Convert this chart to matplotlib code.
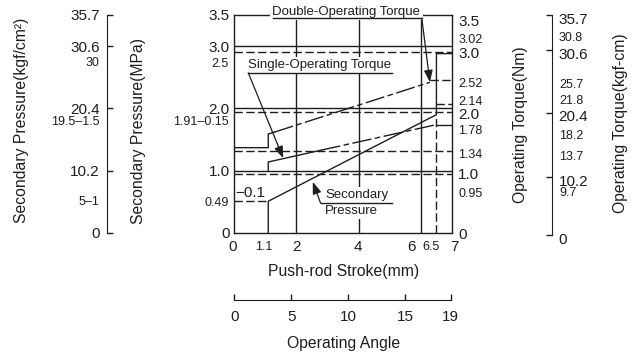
import matplotlib
matplotlib.use("Agg")
import matplotlib.pyplot as plt
from matplotlib.transforms import blended_transform_factory, ScaledTranslation

plt.rcParams["font.family"] = ["Liberation Sans", "DejaVu Sans"]

# -----------------------------
# values (y in MPa / Nm, x in push-rod stroke mm)
# -----------------------------
grid_x = [2, 4, 6]
grid_y = [1.0, 2.0, 3.0]
ref_dashed_y = [2.90, 1.94, 1.32, 0.95]

# short dashed helper lines: (x0, x1, y0, y1)
helper_dashed = [(0.0, 1.1, 0.51, 0.51),
                 (6.29, 7.0, 2.45, 2.45),
                 (6.5, 7.0, 2.07, 2.07),
                 (6.5, 6.5, 0.0, 1.90)]

sec_x = [1.1, 1.1, 6.5, 6.5, 7.0]
sec_y = [0.0, 0.51, 1.90, 2.88, 2.88]

single_x = [1.1, 1.1, 2.8, 6.5, 7.0]
single_y = [1.00, 1.14, 1.33, 1.74, 1.74]

double_x = [0.0, 1.1, 1.1, 1.3, 6.29]
double_y = [1.37, 1.37, 1.59, 1.62, 2.42]

# tick labels
mpa_ticks = [0, 1.0, 2.0, 3.0, 3.5]
mpa_labels = ["0", "1.0", "2.0", "3.0", "3.5"]
mpa_small = ["2.5", "1.91\u20130.15", "0.49"]
mpa_small_y = [2.72, 1.79, 0.48]

kgf_ticks = [0, 10.2, 20.4, 30.6, 35.7]
kgf_labels = ["0", "10.2", "20.4", "30.6", "35.7"]
kgf_small = ["30", "19.5\u20131.5", "5\u20131"]
kgf_small_y = [27.8, 18.2, 5.1]

nm_labels = ["3.5", "3.0", "2.0", "1.0", "0"]
nm_labels_y = [3.38, 2.88, 1.89, 0.93, -0.03]
nm_small = ["3.02", "2.52", "2.14", "1.78", "1.34", "0.95"]
nm_small_y = [3.10, 2.40, 2.11, 1.63, 1.25, 0.63]

# kgf-cm scale: tick marks sit where the scan puts them
kgfcm_ticks = [0, 9.4, 19.8, 30.0, 35.7]
kgfcm_labels = ["0", "10.2", "20.4", "30.6", "35.7"]
kgfcm_small = ["30.8", "25.7", "21.8", "18.2", "13.7", "9.7"]
kgfcm_small_y = [32.0, 24.3, 21.8, 16.1, 12.6, 6.8]

stroke_labels = ["0", "1.1", "2", "4", "6", "6.5", "7"]
stroke_label_x = [-0.04, 0.95, 2.01, 3.99, 5.71, 6.33, 7.07]
stroke_small = [False, True, False, False, False, True, False]

angle_ticks = [0, 5, 10, 15, 19]

# -----------------------------
# figure / axes layout (pixel boxes)
# -----------------------------
W, H = 638, 359
INK = "#1e1e1e"
BIG, SMALL, NOTE, LAB = 11, 9, 9.5, 11.3


def box(x0, y0, x1, y1):
    return [x0 / W, 1 - y1 / H, (x1 - x0) / W, (y1 - y0) / H]


fig = plt.figure(figsize=(W / 100, H / 100), dpi=100)
fig.patch.set_facecolor("white")

ax = fig.add_axes(box(234, 15, 452, 233))
ax.set_xlim(0, 7)
ax.set_ylim(0, 3.5)
for s in ax.spines.values():
    s.set_color(INK)
    s.set_linewidth(1.0)
ax.set_xticks([])
ax.set_yticks(mpa_ticks, mpa_labels)
ax.tick_params(axis="y", length=0, pad=3, labelsize=BIG, labelcolor=INK)

lw = 1.0
dash = (0, (6, 2.5))
broken = (0, (14, 2.5, 4, 2.5))

for gx in grid_x:
    ax.axvline(gx, color=INK, lw=lw, zorder=2)
for gy in grid_y:
    ax.axhline(gy, color=INK, lw=lw, zorder=2)
for dy in ref_dashed_y:
    ax.axhline(dy, color=INK, lw=lw, ls=dash, zorder=2)
for x0, x1, y0, y1 in helper_dashed:
    ax.plot([x0, x1], [y0, y1], color=INK, lw=lw, ls=dash, zorder=2)

# secondary pressure
ax.plot(sec_x, sec_y, color=INK, lw=lw, zorder=3)
# single-operating torque
ax.plot(single_x[:3], single_y[:3], color=INK, lw=lw, zorder=3)
ax.plot(single_x[2:4], single_y[2:4], color=INK, lw=lw, ls=broken, zorder=3)
ax.plot(single_x[3:], single_y[3:], color=INK, lw=lw, zorder=3)
# double-operating torque
ax.plot(double_x[:4], double_y[:4], color=INK, lw=lw, zorder=3)
ax.plot(double_x[3:], double_y[3:], color=INK, lw=lw, ls=broken, zorder=3)

# annotations
wbox = dict(facecolor="white", edgecolor="none", pad=1.5)
arrow = dict(arrowstyle="-|>,head_length=0.6,head_width=0.22", color=INK,
             lw=0.9, shrinkA=0, shrinkB=0, mutation_scale=12)

ax.text(3.61, 3.55, "Double-Operating Torque", fontsize=NOTE, color=INK,
        ha="center", va="center", bbox=wbox, zorder=4)
ax.plot([1.24, 6.03], [3.45, 3.45], color=INK, lw=lw, zorder=5, clip_on=False)
ax.annotate("", xy=(6.29, 2.42), xytext=(6.03, 3.45), arrowprops=arrow, zorder=5)

ax.text(2.76, 2.70, "Single-Operating Torque", fontsize=NOTE, color=INK,
        ha="center", va="center", bbox=wbox, zorder=4)
ax.plot([0.46, 5.06], [2.57, 2.57], color=INK, lw=lw, zorder=5)
ax.annotate("", xy=(1.58, 1.20), xytext=(0.46, 2.57), arrowprops=arrow, zorder=5)

ax.text(2.92, 0.61, "Secondary", fontsize=NOTE, color=INK,
        ha="left", va="center", bbox=wbox, zorder=4)
ax.text(2.92, 0.35, "Pressure", fontsize=NOTE, color=INK,
        ha="left", va="center", bbox=wbox, zorder=4)
ax.plot([2.78, 5.06], [0.48, 0.48], color=INK, lw=lw, zorder=5)
ax.annotate("", xy=(2.53, 0.82), xytext=(2.78, 0.48), arrowprops=arrow, zorder=5)

ax.text(0.03, 0.64, "\u22120.1", fontsize=BIG, color=INK, ha="left", va="center", zorder=4)

# small labels on the MPa side
fx_mpa = blended_transform_factory(fig.transFigure, ax.transData)
for lab, y in zip(mpa_small, mpa_small_y):
    fig.text(228.5 / W, y, lab, transform=fx_mpa, fontsize=SMALL, color=INK,
             ha="right", va="center")

# right side Nm labels
for lab, y in zip(nm_labels, nm_labels_y):
    ax.text(7.2, y, lab, fontsize=BIG, color=INK, ha="left", va="center", clip_on=False)
for lab, y in zip(nm_small, nm_small_y):
    ax.text(7.2, y, lab, fontsize=SMALL, color=INK, ha="left", va="center", clip_on=False)

# stroke labels under the main axes
fx_stroke = blended_transform_factory(ax.transData, fig.transFigure)
for lab, x, small in zip(stroke_labels, stroke_label_x, stroke_small):
    fig.text(x, 1 - 246.7 / H, lab, transform=fx_stroke, fontsize=SMALL if small else BIG,
             color=INK, ha="center", va="center")

fig.text(343.3 / W, 1 - 271.7 / H, "Push-rod Stroke(mm)", fontsize=LAB, color=INK,
         ha="center", va="center")

# -----------------------------
# secondary pressure in kgf/cm2 (outer left scale)
# -----------------------------
ax_k = fig.add_axes(box(107.3, 15, 115, 233))
ax_k.set_ylim(0, 35.7)
ax_k.patch.set_visible(False)
for side in ["right", "top", "bottom"]:
    ax_k.spines[side].set_visible(False)
ax_k.spines["left"].set_color(INK)
ax_k.set_xticks([])
ax_k.set_yticks(kgf_ticks, kgf_labels)
ax_k.tick_params(axis="y", direction="in", length=4.5, width=1, color=INK,
                 pad=5.5, labelsize=BIG, labelcolor=INK)
fx_k = blended_transform_factory(fig.transFigure, ax_k.transData)
for lab, y in zip(kgf_small, kgf_small_y):
    fig.text(99.3 / W, y, lab, transform=fx_k, fontsize=SMALL, color=INK,
             ha="right", va="center")

fig.text(21.7 / W, 1 - 120 / H, "Secondary Pressure(kgf/cm\u00b2)", rotation=90,
         fontsize=LAB, color=INK, ha="center", va="center")
fig.text(138 / W, 1 - 131 / H, "Secondary Pressure(MPa)", rotation=90,
         fontsize=LAB, color=INK, ha="center", va="center")

# -----------------------------
# operating torque in kgf-cm (outer right scale)
# -----------------------------
ax_c = fig.add_axes(box(544, 15, 551.7, 235))
ax_c.set_ylim(0, 35.7)
ax_c.patch.set_visible(False)
for side in ["left", "top", "bottom"]:
    ax_c.spines[side].set_visible(False)
ax_c.spines["right"].set_color(INK)
ax_c.set_xticks([])
ax_c.yaxis.tick_right()
ax_c.set_yticks(kgfcm_ticks, kgfcm_labels)
ax_c.tick_params(axis="y", direction="in", length=4.5, width=1, color=INK,
                 pad=5, labelsize=BIG, labelcolor=INK)
# labels on this scale sit a little below their tick marks
shift = ScaledTranslation(0, -3 / 100, fig.dpi_scale_trans)
for t in ax_c.get_yticklabels():
    t.set_transform(t.get_transform() + shift)
fx_c = blended_transform_factory(fig.transFigure, ax_c.transData)
for lab, y in zip(kgfcm_small, kgfcm_small_y):
    fig.text(559 / W, y, lab, transform=fx_c, fontsize=SMALL, color=INK,
             ha="left", va="center")

fig.text(520 / W, 1 - 125 / H, "Operating Torque(Nm)", rotation=90,
         fontsize=LAB, color=INK, ha="center", va="center")
fig.text(620 / W, 1 - 123 / H, "Operating Torque(kgf-cm)", rotation=90,
         fontsize=LAB, color=INK, ha="center", va="center")

# -----------------------------
# operating angle scale (bottom)
# -----------------------------
ax_a = fig.add_axes(box(234.3, 293, 450.7, 300))
ax_a.set_xlim(0, 19)
ax_a.patch.set_visible(False)
for side in ["left", "top", "right"]:
    ax_a.spines[side].set_visible(False)
ax_a.spines["bottom"].set_color(INK)
ax_a.set_yticks([])
ax_a.set_xticks(angle_ticks, [str(t) for t in angle_ticks])
ax_a.tick_params(axis="x", direction="in", length=4.5, width=1, color=INK,
                 pad=7.5, labelsize=BIG, labelcolor=INK)

fig.text(343.3 / W, 1 - 343.3 / H, "Operating Angle", fontsize=LAB, color=INK,
         ha="center", va="center")

fig.savefig("out.png", dpi=100, facecolor="white")
